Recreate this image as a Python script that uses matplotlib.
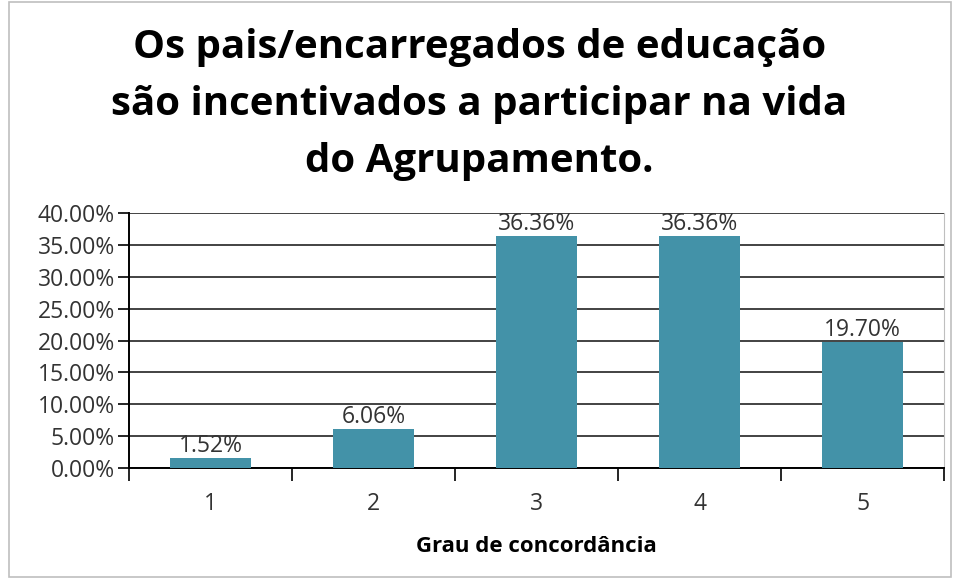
import matplotlib

matplotlib.use("Agg")
import matplotlib.pyplot as plt
from matplotlib.patches import Rectangle
from matplotlib.ticker import FuncFormatter, MultipleLocator

CATEGORIES = ["1", "2", "3", "4", "5"]
VALUES = [1.52, 6.06, 36.36, 36.36, 19.70]
TITLE = "Os pais/encarregados de educação\nsão incentivados a participar na vida\ndo Agrupamento."
XLABEL = "Grau de concordância"

BAR_COLOR = "#4392a8"
plt.rcParams["font.family"] = ["Open Sans", "DejaVu Sans"]

fig = plt.figure(figsize=(9.59, 5.79), dpi=100)
fig.patches.append(Rectangle((0.0095, 0.004), 0.982, 0.992, transform=fig.transFigure,
                             fill=False, edgecolor="#bfbfbf", linewidth=1.2))
ax = fig.add_axes([0.1345, 0.1917, 0.85, 0.4403])

x = range(len(CATEGORIES))
bars = ax.bar(x, VALUES, width=0.5, color=BAR_COLOR, zorder=3)
for b, v in zip(bars, VALUES):
    ax.text(b.get_x() + b.get_width() / 2, v + 0.1, f"{v:.2f}%", ha="center", va="bottom",
            fontsize=16.5, color="#333333", zorder=4)

ax.set_xlim(-0.5, len(CATEGORIES) - 0.5)
ax.set_ylim(0, 40)
ax.yaxis.set_major_locator(MultipleLocator(5))
ax.yaxis.set_major_formatter(FuncFormatter(lambda v, _: f"{v:.2f}%"))
ax.grid(axis="y", color="#222222", linewidth=1.2, zorder=0)

ax.set_xticks(list(x), CATEGORIES)
ax.set_xticks([i - 0.5 for i in range(len(CATEGORIES) + 1)], minor=True)
ax.tick_params(axis="x", which="major", length=0, pad=17, labelsize=16.5, labelcolor="#333333")
ax.tick_params(axis="x", which="minor", length=9, width=1.2, direction="out")
ax.tick_params(axis="y", length=8, width=1.2, pad=2, labelsize=16.5, labelcolor="#333333")

ax.spines["top"].set_visible(False)
ax.spines["right"].set_color("#bfbfbf")
ax.spines["left"].set_linewidth(1.4)
ax.spines["bottom"].set_linewidth(1.4)

ax.set_xlabel(XLABEL, fontsize=16, fontweight="bold", labelpad=15)
fig.text(0.5, 0.82, TITLE, ha="center", va="center", fontsize=29, fontweight="bold",
         linespacing=1.6)

fig.savefig("out.png", dpi=100)
